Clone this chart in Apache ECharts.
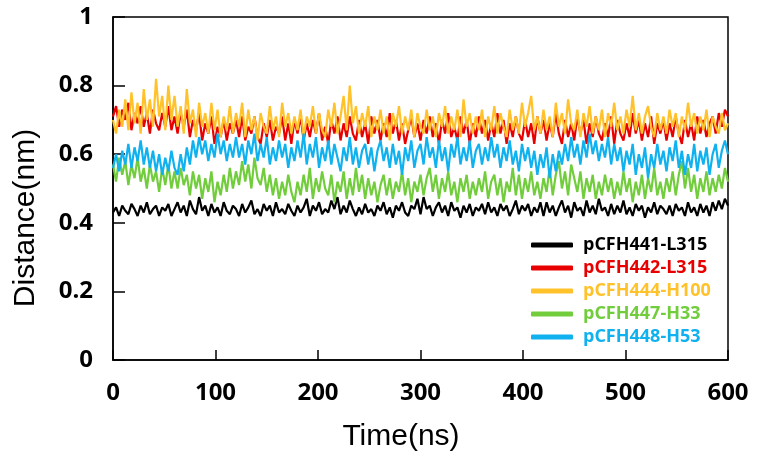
<!DOCTYPE html>
<html>
<head>
<meta charset="utf-8">
<script src="https://cdn.jsdelivr.net/npm/echarts@6/dist/echarts.min.js"></script>
<style>html,body{margin:0;padding:0;background:#fff}#c{width:758px;height:465px}</style>
</head>
<body>
<div id="c"></div>
<script>
const seriesNames = ['pCFH441-L315','pCFH442-L315','pCFH444-H100','pCFH447-H33','pCFH448-H53'];
const timeStep = 3; // ns between samples, first sample at 0 ns
const yTicks = [0, 0.2, 0.4, 0.6, 0.8, 1];
const xTicks = [0, 100, 200, 300, 400, 500, 600];

const black = [
.43,.445,.42,.45,.435,.425,.455,.44,.42,.45,.43,.46,.425,.44,.45,.42,.445,.435,.455,.42,
.44,.46,.43,.45,.42,.465,.44,.425,.475,.435,.45,.42,.455,.43,.445,.42,.46,.435,.425,.45,
.44,.42,.455,.43,.445,.465,.425,.44,.42,.455,.435,.45,.42,.46,.43,.44,.425,.455,.435,.42,
.45,.43,.445,.47,.42,.45,.435,.46,.425,.44,.43,.465,.44,.475,.425,.45,.43,.465,.44,.42,
.445,.425,.455,.43,.44,.42,.45,.435,.46,.425,.445,.415,.45,.435,.46,.43,.42,.45,.44,.47,
.425,.475,.44,.45,.42,.445,.46,.43,.45,.42,.46,.435,.445,.415,.45,.43,.455,.42,.445,.435,
.455,.425,.46,.43,.445,.42,.455,.435,.45,.42,.44,.465,.425,.45,.435,.455,.42,.445,.43,.46,
.42,.46,.43,.45,.42,.445,.465,.43,.45,.415,.46,.435,.445,.42,.465,.43,.45,.425,.47,.435,
.445,.42,.455,.425,.45,.43,.465,.425,.445,.42,.455,.435,.45,.415,.445,.43,.46,.425,.45,.44,
.425,.45,.42,.455,.435,.445,.42,.46,.43,.445,.42,.455,.43,.45,.42,.46,.435,.465,.44,.47,
.45];
const red = [
.71,.74,.68,.73,.70,.75,.67,.72,.69,.74,.68,.72,.66,.73,.69,.67,.72,.68,.74,.67,
.71,.66,.72,.68,.73,.65,.70,.67,.72,.64,.69,.66,.71,.63,.68,.65,.70,.64,.69,.66,
.70,.65,.71,.64,.68,.66,.71,.65,.63,.69,.65,.70,.64,.68,.66,.71,.64,.69,.63,.70,
.66,.71,.64,.69,.65,.70,.66,.72,.64,.68,.63,.70,.66,.71,.64,.69,.65,.71,.66,.64,
.70,.65,.69,.63,.71,.66,.70,.64,.69,.65,.72,.66,.70,.64,.69,.63,.67,.71,.65,.69,
.64,.70,.66,.71,.65,.69,.63,.70,.66,.72,.65,.68,.64,.71,.66,.70,.63,.69,.65,.71,
.66,.70,.64,.69,.65,.72,.66,.70,.63,.69,.65,.71,.66,.64,.70,.65,.69,.63,.71,.66,
.70,.64,.69,.65,.72,.66,.63,.70,.65,.69,.64,.71,.66,.70,.63,.69,.65,.71,.66,.64,
.69,.65,.71,.63,.70,.66,.64,.69,.65,.72,.66,.70,.64,.69,.65,.71,.63,.69,.66,.70,
.64,.69,.65,.71,.66,.63,.70,.65,.69,.64,.71,.66,.70,.65,.69,.71,.66,.72,.68,.73,
.71];
const yellow = [
.70,.66,.73,.68,.76,.67,.78,.69,.75,.66,.79,.70,.76,.68,.82,.71,.77,.67,.80,.70,
.77,.68,.74,.66,.79,.69,.73,.65,.75,.68,.72,.66,.75,.67,.73,.65,.71,.67,.74,.66,
.72,.68,.75,.65,.73,.67,.71,.64,.72,.68,.66,.74,.67,.71,.65,.75,.68,.72,.66,.71,
.67,.73,.65,.71,.68,.74,.66,.72,.67,.65,.73,.68,.75,.66,.71,.77,.67,.80,.69,.74,
.66,.72,.68,.74,.65,.71,.67,.73,.66,.71,.64,.72,.68,.74,.66,.71,.67,.73,.65,.72,
.68,.66,.73,.67,.71,.65,.72,.68,.74,.66,.71,.67,.73,.65,.76,.68,.72,.66,.71,.67,
.73,.65,.71,.67,.74,.66,.72,.68,.65,.73,.67,.71,.66,.75,.68,.72,.77,.67,.71,.66,
.73,.67,.71,.65,.75,.68,.72,.66,.76,.69,.67,.73,.65,.72,.68,.74,.66,.71,.67,.73,
.65,.72,.68,.75,.67,.71,.66,.73,.68,.77,.67,.72,.66,.71,.74,.68,.65,.72,.67,.71,
.66,.73,.68,.72,.65,.71,.67,.75,.68,.72,.66,.71,.67,.73,.65,.71,.68,.66,.72,.67,
.69];
const green = [
.57,.52,.59,.54,.58,.51,.57,.53,.59,.52,.56,.50,.57,.52,.55,.49,.56,.51,.57,.50,
.55,.50,.56,.51,.54,.48,.55,.50,.54,.47,.53,.49,.55,.46,.52,.48,.54,.49,.56,.50,
.55,.51,.58,.52,.57,.50,.59,.53,.51,.56,.49,.54,.48,.53,.47,.52,.48,.54,.49,.46,
.52,.48,.54,.49,.56,.47,.53,.49,.55,.50,.48,.54,.46,.52,.49,.55,.47,.53,.48,.56,
.49,.54,.47,.53,.48,.52,.46,.51,.54,.48,.53,.47,.52,.49,.55,.48,.53,.46,.52,.49,
.54,.48,.53,.56,.49,.54,.47,.53,.49,.55,.48,.52,.46,.53,.49,.54,.47,.52,.48,.53,
.49,.55,.47,.52,.54,.48,.53,.46,.52,.49,.56,.48,.54,.47,.53,.49,.55,.48,.52,.47,
.53,.49,.56,.48,.54,.58,.50,.55,.48,.57,.53,.49,.55,.47,.53,.49,.54,.47,.52,.48,
.54,.49,.53,.47,.52,.48,.55,.49,.53,.46,.52,.48,.54,.47,.53,.49,.56,.48,.52,.47,
.53,.49,.55,.48,.54,.58,.50,.56,.49,.54,.47,.53,.49,.55,.48,.53,.49,.54,.50,.56,
.52];
const blue = [
.56,.60,.55,.61,.57,.63,.56,.62,.58,.64,.57,.62,.56,.61,.55,.60,.54,.59,.55,.61,
.56,.54,.60,.55,.62,.57,.64,.59,.65,.60,.64,.58,.63,.59,.66,.60,.64,.58,.63,.59,
.65,.59,.63,.57,.64,.60,.66,.58,.63,.59,.65,.57,.62,.58,.64,.59,.63,.56,.62,.58,
.64,.59,.66,.57,.63,.59,.65,.56,.62,.58,.64,.57,.63,.59,.55,.62,.58,.65,.57,.62,
.56,.61,.63,.57,.62,.55,.61,.64,.58,.62,.56,.63,.57,.61,.54,.62,.58,.64,.56,.61,
.63,.57,.65,.59,.62,.56,.64,.58,.62,.55,.63,.59,.65,.57,.62,.58,.64,.56,.61,.63,
.57,.62,.58,.65,.59,.63,.56,.62,.58,.64,.57,.61,.55,.63,.58,.62,.56,.61,.54,.60,
.56,.62,.53,.60,.55,.61,.57,.63,.58,.65,.59,.63,.57,.64,.59,.66,.60,.64,.58,.63,
.59,.65,.57,.63,.58,.62,.55,.61,.57,.63,.54,.60,.56,.62,.53,.60,.56,.63,.57,.61,
.55,.62,.58,.64,.56,.61,.54,.60,.56,.63,.55,.61,.57,.62,.54,.60,.63,.56,.61,.64,
.60];

const allSeries = [black, red, yellow, green, blue];
const colors = ['#000000', '#e80000', '#ffc22a', '#72cd3c', '#10b1ef'];

const chart = echarts.init(document.getElementById('c'), null, {renderer: 'canvas'});
const tickFont = {fontFamily: 'Open Sans', fontWeight: 'bold', fontSize: 24, color: '#000'};

chart.setOption({
  animation: false,
  backgroundColor: '#fff',
  grid: {left: 113, right: 30, top: 17, bottom: 105, show: true, borderColor: '#000', borderWidth: 1.5, backgroundColor: 'transparent'},
  xAxis: {
    type: 'value', min: xTicks[0], max: xTicks[xTicks.length - 1], interval: 100,
    axisLine: {show: true, onZero: false, lineStyle: {color: '#000', width: 1.5}},
    axisTick: {show: true, inside: true, length: 10, lineStyle: {color: '#000', width: 1.5}},
    splitLine: {show: false},
    axisLabel: Object.assign({margin: 21}, tickFont)
  },
  yAxis: {
    type: 'value', min: yTicks[0], max: yTicks[yTicks.length - 1], interval: 0.2,
    axisLine: {show: true, lineStyle: {color: '#000', width: 1.5}},
    axisTick: {show: true, inside: true, length: 12, lineStyle: {color: '#000', width: 1.5}},
    splitLine: {show: false},
    axisLabel: Object.assign({margin: 20}, tickFont)
  },
  legend: {
    orient: 'vertical', left: 526, top: 231,
    itemWidth: 42, itemHeight: 5, itemGap: 5,
    icon: 'roundRect',
    data: seriesNames.map((n, i) => ({name: n, textStyle: {color: colors[i]}})),
    textStyle: {fontFamily: 'Open Sans', fontWeight: 'bold', fontSize: 18, lineHeight: 18, padding: [0, 0, 0, 5]}
  },
  graphic: [
    {type: 'text', x: 26, y: 218, rotation: Math.PI / 2,
     style: {text: 'Distance(nm)', font: '30px "Liberation Sans"', fill: '#000', textAlign: 'center', textVerticalAlign: 'middle'}},
    {type: 'text', x: 401, y: 437,
     style: {text: 'Time(ns)', font: '30px "Liberation Sans"', fill: '#000', textAlign: 'center', textVerticalAlign: 'middle'}}
  ],
  series: allSeries.map((vals, i) => ({
    name: seriesNames[i], type: 'line', showSymbol: false, symbol: 'none',
    color: colors[i],
    lineStyle: {width: 2.2, color: colors[i]},
    data: vals.map((v, k) => [k * timeStep, v]),
    z: 2 + i
  }))
});
</script>
</body>
</html>
